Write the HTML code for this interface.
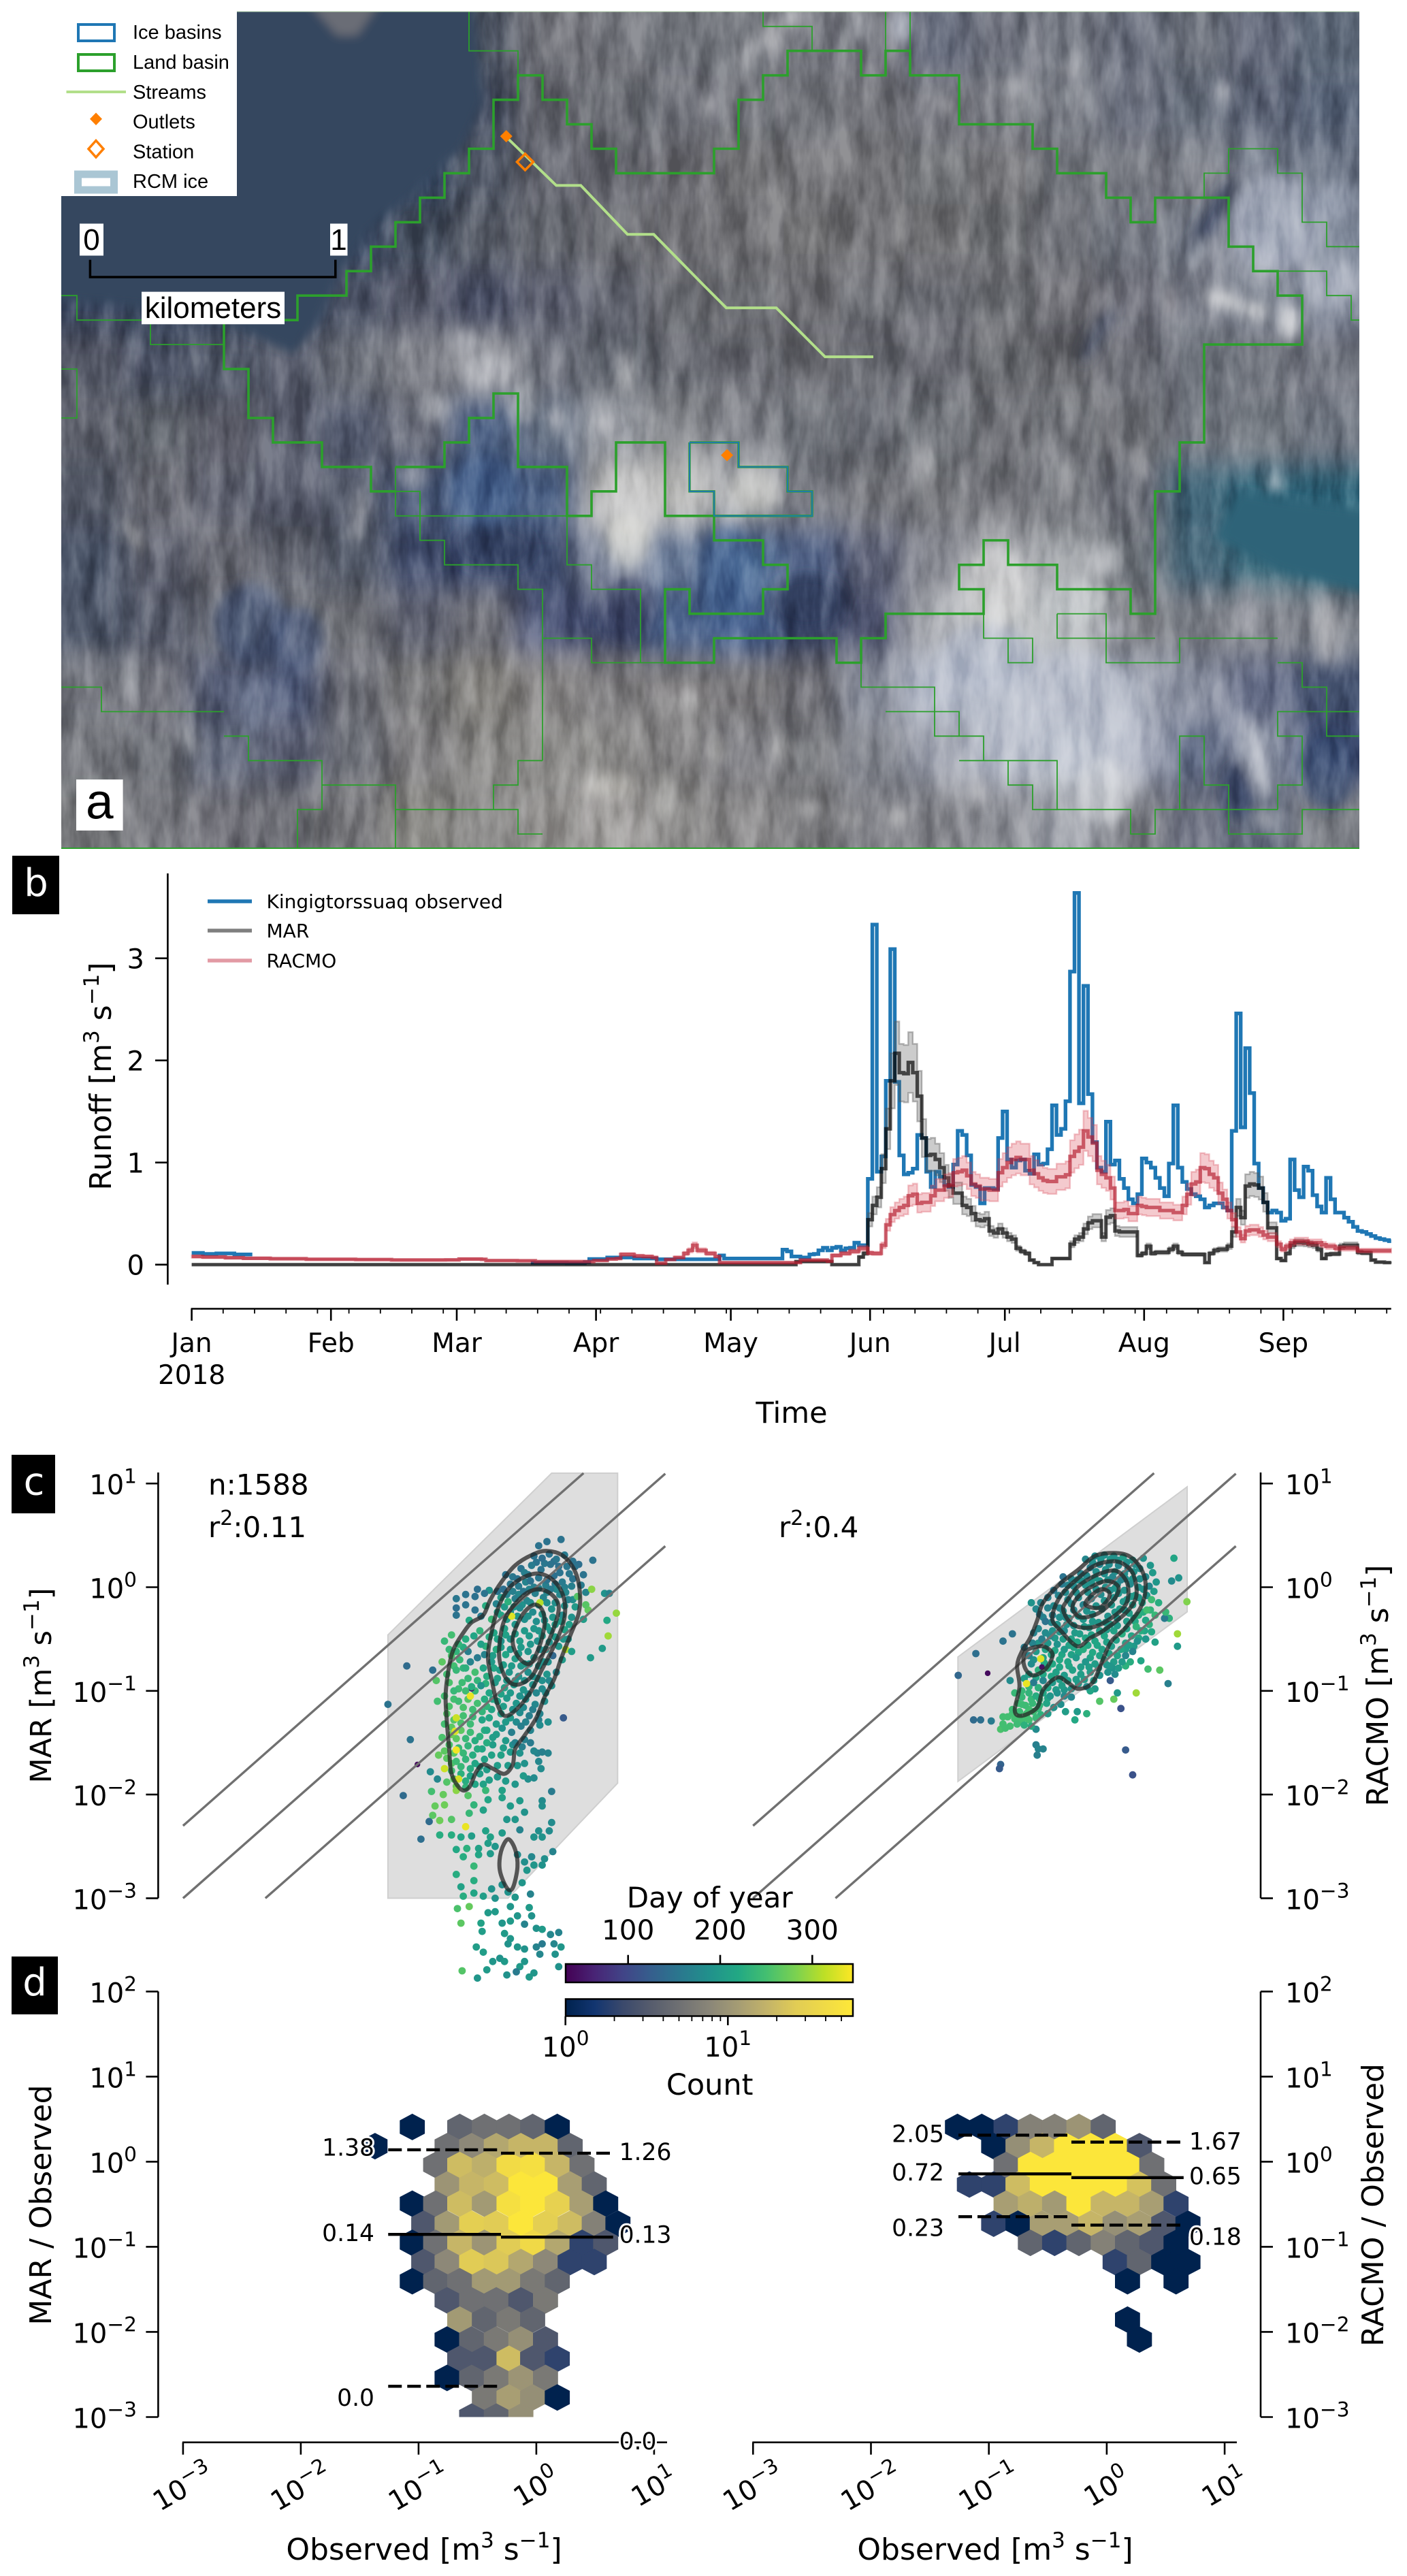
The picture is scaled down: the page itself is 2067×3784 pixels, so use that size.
<!DOCTYPE html>
<html lang="en">
<head>
<meta charset="utf-8">
<title>Runoff comparison figure</title>
<style>
html,body{margin:0;padding:0;background:#fff;}
svg{display:block;}
text{font-family:"DejaVu Sans","Liberation Sans",sans-serif;fill:#000;}
.lib{font-family:"Liberation Sans",sans-serif;}
.halo{paint-order:stroke;stroke:#fff;stroke-width:6px;stroke-linejoin:round;}
</style>
</head>
<body>
<svg id="fig" xmlns="http://www.w3.org/2000/svg" width="2067" height="3784" viewBox="0 0 2067 3784">
<defs>
<filter id="blurBig" x="-10%" y="-10%" width="120%" height="120%"><feGaussianBlur stdDeviation="20"/></filter>
<filter id="blurSmall" x="-10%" y="-10%" width="120%" height="120%"><feGaussianBlur stdDeviation="9"/></filter>
<filter id="blurTiny" x="-10%" y="-10%" width="120%" height="120%"><feGaussianBlur stdDeviation="7"/></filter>
<filter id="streakNoise" x="0" y="0" width="100%" height="100%" color-interpolation-filters="sRGB"><feTurbulence type="fractalNoise" baseFrequency="0.04 0.011" numOctaves="4" seed="11"/><feColorMatrix type="matrix" values="1.7 0 0 0 -0.35  1.7 0 0 0 -0.35  1.7 0 0 0 -0.35  0 0 0 0 1"/></filter>
<clipPath id="mapClip"><rect x="90" y="16.5" width="1907" height="1230.5"/></clipPath>
<clipPath id="hexClipL"><rect x="230" y="2900" width="800" height="650.5"/></clipPath>
<clipPath id="hexClipR"><rect x="1060" y="2900" width="790" height="650.5"/></clipPath>
<linearGradient id="viridisGrad" x1="0" x2="1" y1="0" y2="0">
<stop offset="0" stop-color="#440154"/><stop offset=".1" stop-color="#482475"/><stop offset=".2" stop-color="#414487"/><stop offset=".3" stop-color="#355f8d"/><stop offset=".4" stop-color="#2a788e"/><stop offset=".5" stop-color="#21918c"/><stop offset=".6" stop-color="#22a884"/><stop offset=".7" stop-color="#44bf70"/><stop offset=".8" stop-color="#7ad151"/><stop offset=".9" stop-color="#bddf26"/><stop offset="1" stop-color="#fde725"/>
</linearGradient>
<linearGradient id="cividisGrad" x1="0" x2="1" y1="0" y2="0">
<stop offset="0" stop-color="#00224e"/><stop offset=".1" stop-color="#123570"/><stop offset=".2" stop-color="#3b496c"/><stop offset=".3" stop-color="#575d6d"/><stop offset=".4" stop-color="#707173"/><stop offset=".5" stop-color="#8a8678"/><stop offset=".6" stop-color="#a59c74"/><stop offset=".7" stop-color="#c3b369"/><stop offset=".8" stop-color="#e1cc55"/><stop offset="1" stop-color="#fee838"/>
</linearGradient>
</defs>

<g id="mapPanel" clip-path="url(#mapClip)">
  <g id="mapBase" filter="url(#blurBig)"></g>
  <g id="mapStreaks" filter="url(#blurSmall)"></g>
  <rect x="90" y="16.5" width="1907" height="1230.5" filter="url(#streakNoise)" style="mix-blend-mode:soft-light" opacity="0.5"/>
  <g filter="url(#blurTiny)">
    <polygon points="70,0 695,0 710,150 680,215 600,290 540,340 500,400 470,470 430,520 330,470 200,450 70,440" fill="#34465f"/>
    <polygon points="450,0 560,0 525,52 495,52" fill="#6b6d76"/>
    <polygon points="1819,722 1900,735 2020,750 2020,873 1880,840 1785,790" fill="#2f6478"/>
  </g>
  <g id="mapBasins"></g>
</g>

<g>
  <rect x="90" y="16" width="258" height="272" fill="#fff"/>
  <rect x="115" y="36" width="53" height="24" fill="#fff" stroke="#1f77b4" stroke-width="4"/>
  <text class="lib" x="195" y="57" font-size="29">Ice basins</text>
  <rect x="115" y="80" width="53" height="24" fill="#fff" stroke="#2ca02c" stroke-width="4"/>
  <text class="lib" x="195" y="101" font-size="29">Land basin</text>
  <line x1="97.5" y1="135" x2="185" y2="135" stroke="#b2df8a" stroke-width="4"/>
  <text class="lib" x="195" y="145" font-size="29">Streams</text>
  <polygon points="141,165.5 150,174.7 141,184 132,174.7" fill="#ff7f00"/>
  <text class="lib" x="195" y="188.6" font-size="29">Outlets</text>
  <polygon points="141,206.5 152,218.7 141,231 130,218.7" fill="none" stroke="#ff7f00" stroke-width="3.5"/>
  <text class="lib" x="195" y="232.6" font-size="29">Station</text>
  <rect x="114.5" y="256" width="53" height="23" fill="#fff" stroke="#aac6d4" stroke-width="11"/>
  <text class="lib" x="195" y="276" font-size="29">RCM ice</text>
</g>

<g>
  <rect x="117" y="328.5" width="35" height="47" fill="#fff"/>
  <text class="lib" x="134.5" y="367" font-size="44" text-anchor="middle">0</text>
  <rect x="485" y="328.5" width="25.5" height="47" fill="#fff"/>
  <text class="lib" x="497.5" y="367" font-size="44" text-anchor="middle">1</text>
  <polyline points="132.4,381.6 132.4,407 492.8,407 492.8,381.6" fill="none" stroke="#000" stroke-width="3.5"/>
  <rect x="208" y="428.6" width="210" height="47.7" fill="#fff"/>
  <text class="lib" x="313" y="467" font-size="44" text-anchor="middle">kilometers</text>
</g>

<rect x="112" y="1145" width="68.6" height="75" fill="#fff"/>
<text class="lib" x="146.3" y="1202.4" font-size="73" text-anchor="middle">a</text>

<rect x="18" y="1257" width="69" height="86" fill="#000"/>
<text x="53" y="1316" font-size="56" text-anchor="middle" style="fill:#fff">b</text>
<rect x="17" y="2137" width="64" height="86" fill="#000"/>
<text x="50" y="2195.5" font-size="56" text-anchor="middle" style="fill:#fff">c</text>
<rect x="17" y="2874" width="68" height="85" fill="#000"/>
<text x="51" y="2931" font-size="56" text-anchor="middle" style="fill:#fff">d</text>

<g id="runoffPanel"></g>
<g>
  <line x1="305" y1="1324" x2="370" y2="1324" stroke="#1f77b4" stroke-width="5.5"/>
  <text x="391.5" y="1334" font-size="28">Kingigtorssuaq observed</text>
  <line x1="305" y1="1367" x2="370" y2="1367" stroke="#7f7f7f" stroke-width="5.5"/>
  <text x="391.5" y="1377" font-size="28">MAR</text>
  <line x1="305" y1="1411" x2="370" y2="1411" stroke="#e29aa4" stroke-width="5.5"/>
  <text x="391.5" y="1421" font-size="28">RACMO</text>
</g>
<text transform="translate(163 1581) rotate(-90)" font-size="44" text-anchor="middle">Runoff [m<tspan dy="-18" font-size="31">3</tspan><tspan dy="18"> s</tspan><tspan dy="-18" font-size="31">−1</tspan><tspan dy="18">]</tspan></text>
<text x="1163" y="2090" font-size="43" text-anchor="middle">Time</text>
<text x="281.6" y="2033" font-size="39" text-anchor="middle">2018</text>

<g id="scatterLeft"></g>
<g id="scatterRight"></g>
<g id="hexLeft"></g>
<g id="hexRight"></g>

<text x="306" y="2195.5" font-size="42">n:1588</text>
<text x="306" y="2258" font-size="42">r<tspan dy="-18" font-size="30">2</tspan><tspan dy="18">:0.11</tspan></text>
<text x="1144" y="2258" font-size="42">r<tspan dy="-18" font-size="30">2</tspan><tspan dy="18">:0.4</tspan></text>

<text transform="translate(75 2476) rotate(-90)" font-size="43" text-anchor="middle">MAR [m<tspan dy="-18" font-size="31">3</tspan><tspan dy="18"> s</tspan><tspan dy="-18" font-size="31">−1</tspan><tspan dy="18">]</tspan></text>
<text transform="translate(2039 2476) rotate(-90)" font-size="44" text-anchor="middle">RACMO [m<tspan dy="-18" font-size="31">3</tspan><tspan dy="18"> s</tspan><tspan dy="-18" font-size="31">−1</tspan><tspan dy="18">]</tspan></text>
<text transform="translate(75 3239) rotate(-90)" font-size="44" text-anchor="middle">MAR / Observed</text>
<text transform="translate(2032 3239) rotate(-90)" font-size="44" text-anchor="middle">RACMO / Observed</text>
<text x="623" y="3760" font-size="44" text-anchor="middle">Observed [m<tspan dy="-18" font-size="31">3</tspan><tspan dy="18"> s</tspan><tspan dy="-18" font-size="31">−1</tspan><tspan dy="18">]</tspan></text>
<text x="1462" y="3760" font-size="44" text-anchor="middle">Observed [m<tspan dy="-18" font-size="31">3</tspan><tspan dy="18"> s</tspan><tspan dy="-18" font-size="31">−1</tspan><tspan dy="18">]</tspan></text>

<g id="colorbars">
  <text x="1042.7" y="2802" font-size="42" text-anchor="middle">Day of year</text>
  <rect x="831" y="2885" width="422" height="27" fill="url(#viridisGrad)" stroke="#000" stroke-width="2.5"/>
  <rect x="831" y="2936.5" width="422" height="25" fill="url(#cividisGrad)" stroke="#000" stroke-width="2.5"/>
  <text x="1042.7" y="3077" font-size="43" text-anchor="middle">Count</text>
</g>

<g>
  <text class="halo" x="550" y="3166.6" font-size="34.5" text-anchor="end">1.38</text>
  <text class="halo" x="909.6" y="3172.8" font-size="34.5">1.26</text>
  <text class="halo" x="550" y="3291.8" font-size="34.5" text-anchor="end">0.14</text>
  <text class="halo" x="909.6" y="3294.6" font-size="34.5">0.13</text>
  <text class="halo" x="550" y="3534" font-size="34.5" text-anchor="end">0.0</text>
  <text class="halo" x="909.6" y="3598" font-size="34.5">0.0</text>
  <text class="halo" x="1387" y="3146.3" font-size="34.5" text-anchor="end">2.05</text>
  <text class="halo" x="1747" y="3157.6" font-size="34.5">1.67</text>
  <text class="halo" x="1387" y="3203" font-size="34.5" text-anchor="end">0.72</text>
  <text class="halo" x="1747" y="3208.3" font-size="34.5">0.65</text>
  <text class="halo" x="1387" y="3284.4" font-size="34.5" text-anchor="end">0.23</text>
  <text class="halo" x="1747" y="3297.4" font-size="34.5">0.18</text>
</g>
</svg>

<script>
/* ---------- panel a: image + basin data ---------- */
const mapColorRows = [
['#33455f','#33455f','#33455f','#3f4c63','#3a4a62','#33455f','#4d5464','#6f7178','#73757c','#72747b','#72747b','#787a82','#7a7c84','#6a7080','#6f737f','#7a7e88','#6d7280','#686d78','#64697a','#5f6a7a'],
['#33455f','#33455f','#33455f','#33455f','#33455f','#33455f','#475062','#66686f','#6c6e74','#70727a','#73757c','#75777d','#75767c','#74767e','#787a82','#7d8089','#6d7280','#6d7482','#5e6678','#566276'],
['#33455f','#33455f','#33455f','#33455f','#33455f','#354660','#505665','#666871','#696b72','#6f7076','#747578','#76767a','#747579','#737479','#747579','#72747b','#72747d','#7c7f88','#7c8392','#6a7384'],
['#354660','#354660','#354660','#354660','#3a4962','#4a5264','#5a5e6b','#65676f','#6b6c72','#6f6f74','#727276','#747477','#76767a','#747478','#737479','#707279','#757983','#7a7f8b','#a0a6b4','#8a93a3'],
['#3c4a62','#3a4860','#37465f','#3e4b64','#4f5669','#565a6a','#4e5369','#5d6070','#62656f','#6b6c72','#6e6f74','#6f7075','#6e7076','#6e7077','#6e6f75','#6f7076','#747680','#80848f','#8a909c','#8c93a3'],
['#565a68','#505669','#555b6c','#5c606f','#6b6e78','#82848c','#8c8e94','#777a85','#62666f','#686a72','#696b72','#6c6d73','#6a6c73','#696b72','#6a6c71','#6c6d72','#6e7078','#70747e','#72767f','#787c86'],
['#5c5f6a','#646770','#5e616c','#5c606f','#555c70','#6f7380','#4f6486','#6a7688','#9ea1a8','#8b8d92','#85878e','#70737a','#6b6d74','#777a80','#6f7177','#76787e','#6e7076','#70757e','#7a8088','#6e7480'],
['#555a68','#6a6c74','#5f626f','#5c6070','#5b6272','#4b5a78','#4a6288','#4b6084','#b0b0b0','#bdbdbc','#a9abb0','#7e8088','#74767c','#7b7d82','#74767c','#7c7e84','#6d7079','#3f6578','#2f6478','#2f6478'],
['#4c5568','#5f6270','#6a6c74','#60636e','#575d6c','#404c6a','#3a4a6c','#3d4b6c','#8a93a6','#6a7b98','#4a6890','#4f6184','#5f6378','#8c8e96','#a4a6ab','#a9acb0','#70747c','#47687a','#3a6a7c','#356a7c'],
['#50586a','#5a5f6e','#63666f','#6b6d74','#6a6c72','#5f6271','#71727a','#50597a','#3a4566','#4a6088','#4a6490','#3a4768','#4f5570','#b0b2b8','#c0c2c4','#b6b9bd','#7b7e84','#7a7e86','#878a92','#7c8089'],
['#70727a','#6f717a','#596079','#505a78','#6e7078','#7a7a7c','#85837f','#8a8888','#7d7c7e','#7b7a7c','#7a797b','#6e6e74','#8a8f9c','#b6bcca','#b8becb','#b3b8c6','#a0a6b4','#8a90a0','#67708a','#465472'],
['#787a80','#72747b','#646a7d','#5e6477','#6d6f78','#7f7e80','#8a8987','#8d8c8a','#8e8d8c','#888788','#85858a','#7a7b80','#8b8e96','#a0a4b0','#b8bdca','#c8cdd6','#b5bac8','#646e88','#8f96a8','#46547a'],
['#7c7d80','#77787e','#6f7078','#72737a','#78787c','#84837f','#8c8b8a','#9a9896','#a09e9c','#8e8d8c','#8a898a','#7d7d80','#83848a','#87888e','#8f9198','#a3a6ae','#7f8188','#6c7080','#687082','#7a7d84']
];
/* texture patches: cx, cy, rx, ry, rotation, colour */
const mapPatches = [
[369,917,55,60,0,'#4a5a7c'],[435,942,40,50,10,'#4e5e80'],[923,893,40,45,0,'#3a4564'],[1186,885,60,40,0,'#2f3c5c'],[725,803,60,35,0,'#2f3c5c'],
[1068,844,40,70,0,'#4a6a96'],[712,722,50,50,0,'#4a6590'],[1951,1130,40,60,0,'#2f4468'],[1819,1162,25,40,0,'#33456a'],[1778,326,14,70,30,'#2e3c58'],[1613,490,10,50,30,'#3a4660'],
[1877,326,70,70,0,'#aab0c0'],[1963,294,30,30,0,'#a0a8b8'],[1956,416,36,34,0,'#b0b6c4'],[1798,441,30,12,15,'#e4e4e4'],[1844,457,22,12,15,'#dcdcdc'],[1897,473,16,25,0,'#ececec'],[1759,375,10,25,30,'#b8bcc4'],[1626,433,7,20,10,'#c0c0c4'],[1719,445,7,25,-5,'#b8b4b8'],
[1096,82,14,30,20,'#c0c2c6'],[1132,53,12,22,0,'#c4c4c8'],[1165,25,14,16,0,'#cfcfd2'],[1264,37,10,22,0,'#b8bbc2'],[1323,37,18,26,0,'#b4b9c6'],[1521,69,8,34,-8,'#bcbec4'],[1574,98,10,24,5,'#c4c6ca'],[1488,126,14,10,-20,'#c2c4c8'],[1567,139,10,16,20,'#bcc0c6'],[1676,127,8,20,0,'#c2c4cc'],[1798,135,10,14,0,'#c0c2c8'],[1392,159,5,14,0,'#d0d0d0'],[1043,155,6,12,0,'#c8c8cc'],
[919,547,9,32,4,'#e6e6e6'],[718,543,40,25,0,'#bcbec4'],[685,502,25,14,0,'#aeb0b8'],[639,600,16,22,10,'#c6c8cc'],[817,616,12,18,0,'#c8c8cc'],[889,624,14,12,0,'#bcbcc0'],[770,590,22,34,0,'#b4b6ba'],
[923,746,45,60,0,'#d0d0d0'],[923,795,35,40,0,'#dcdcd6'],[527,758,12,40,8,'#a8aab0'],[198,787,10,30,-30,'#b4b4b4'],[606,701,20,20,0,'#aeb2bc'],[1107,722,40,35,0,'#cfcfca'],[1463,860,45,60,0,'#dcdcdc'],[1582,885,45,28,0,'#cfd2d4'],[1621,820,25,25,0,'#c4c6ca'],[1635,926,25,20,0,'#bcbec6'],[1872,709,14,16,0,'#a6b2bc'],[1358,681,8,30,0,'#b8b8bc'],[1569,701,8,30,0,'#b8b8bc'],[1674,681,8,30,-10,'#b8b8bc'],[1951,926,18,50,0,'#c0c0c4'],[1832,893,10,40,0,'#bcbcc4'],
[1582,1048,100,90,0,'#bcc2ce'],[1621,1162,40,50,0,'#d8dbe0'],[1450,966,70,50,0,'#b8bfce'],[1845,1109,18,60,-15,'#c4c8d0'],[1015,1024,8,18,0,'#ececec'],[132,979,12,30,0,'#a8aab2'],[198,995,10,40,0,'#aeb2b8'],[369,1036,12,50,0,'#8a96ac'],[277,1085,10,30,-30,'#a4a6ac'],
[896,1154,40,20,0,'#c8c6c2'],[975,1166,10,40,0,'#c8c8c4'],[1186,1187,12,12,0,'#c0c0c0'],[1252,1203,12,10,0,'#bcbcbc'],[1318,1199,14,10,0,'#c0c0c0'],[870,1097,6,40,-20,'#bcbcb8'],[1055,1101,10,20,0,'#bcbcb8'],[1147,1101,10,18,0,'#b4b4b4'],[1437,1162,12,20,0,'#c4c4c8'],[1859,1203,10,14,0,'#bcbcc0']
];
/* basin boundaries in RCM grid cells: [column, row] */
const basinThickMain = [[6,11],[9,11],[9,10],[11,10],[11,9],[12,9],[12,8],[13,8],[13,7],[14,7],[14,6],[15,6],[15,5],[16,5],[16,4],[17,4],[17,2],[18,2],[18,1],[19,1],[19,2],[20,2],[20,3],[21,3],[21,4],[22,4],[22,5],[26,5],[26,4],[27,4],[27,2],[28,2],[28,1],[29,1],[29,0],[32,0],[32,1],[33,1],[33,0],[34,0],[34,1],[36,1],[36,3],[39,3],[39,4],[40,4],[40,5],[42,5],[42,6],[43,6],[43,7],[44,7],[44,6],[47,6],[47,8],[48,8],[48,9],[49,9],[49,10],[50,10],[50,12],[46,12],[46,16],[45,16],[45,18],[44,18],[44,23],[43,23],[43,22],[40,22],[40,21],[38,21],[38,20],[37,20],[37,21],[36,21],[36,22],[37,22],[37,23],[33,23],[33,24],[32,24],[32,25],[31,25],[31,24],[26,24],[26,25],[24,25],[24,22],[25,22],[25,23],[28,23],[28,22],[29,22],[29,21],[28,21],[28,20],[26,20],[26,19]];
const basinThickWest = [[6,11],[6,13],[7,13],[7,15],[8,15],[8,16],[10,16],[10,17],[12,17],[12,18],[13,18]];
const basinThickCentral = [[30,19],[24,19],[24,16],[22,16],[22,18],[21,18],[21,19],[20,19],[20,17],[18,17],[18,14],[17,14],[17,15],[16,15],[16,16],[15,16],[15,17],[13,17]];
const basinThin = [
[[16,-1.62],[16,0],[18,0],[18,1]],
[[28,-1.62],[28,-1],[30,-1],[30,0]],
[[33,-1.62],[33,1]],
[[34,-1.62],[34,0]],
[[46,6],[46,5],[47,5],[47,4],[49,4],[49,5],[50,5],[50,7],[51,7],[51,8],[52.33,8]],
[[49,9],[51,9],[51,10],[52,10],[52,11],[52.33,11]],
[[-0.64,10],[0,10],[0,11],[6,11]],
[[3,11],[3,12],[6,12]],
[[-0.64,13],[0,13],[0,15],[-0.64,15]],
[[13,17],[13,19],[21,19]],
[[13,18],[14,18],[14,20],[15,20],[15,21],[18,21],[18,22],[19,22],[19,29]],
[[20,19],[20,21],[21,21],[21,22],[23,22],[23,25]],
[[19,24],[21,24],[21,25],[24,25]],
[[-0.64,26],[1,26],[1,27],[6,27]],
[[6,28],[7,28],[7,29],[10,29],[10,30],[13,30],[13,31],[18,31],[18,32],[19,32]],
[[9,32.6],[9,31],[10,31],[10,30]],
[[13,31],[13,32.6]],
[[17,31],[17,30],[18,30],[18,29],[19,29]],
[[32,25],[32,26],[35,26],[35,28],[37,28],[37,29],[36,29],[40,29],[40,31],[43,31],[43,32],[44,32],[44,31],[49,31]],
[[33,27],[36,27],[36,28]],
[[38,29],[38,30],[39,30],[39,31],[40,31]],
[[37,23],[37,24],[39,24],[39,25],[38,25],[38,24]],
[[40,23],[42,23],[42,25],[45,25],[45,24],[49,24]],
[[40,23],[40,24],[44,24]],
[[49,25],[50,25],[50,26],[51,26],[51,28],[52.33,28]],
[[52.33,27],[49,27],[49,28],[50,28],[50,30],[49,30],[49,31]],
[[45,31],[45,28],[46,28],[46,30],[47,30],[47,32],[50,32],[50,31],[52.33,31]]
];
const iceBasin = [[25,16],[27,16],[27,17],[29,17],[29,18],[30,18],[30,19],[26,19],[26,18],[25,18],[25,16]];
const streamPath = [[17.5,3.5],[19.56,5.5],[20.56,5.5],[22.47,7.5],[23.54,7.5],[25.55,9.55],[26.5,10.5],[28.54,10.5],[30.53,12.5],[32.5,12.5]];
const outletCells = [[17.52,3.49],[26.53,16.52]];
const stationCells = [[18.29,4.54]];

/* ---------- panel b: runoff series (m3/s) ---------- */
const runoffBandFraction = 0.15;
const obsEarlyDays = [0,3,6,10,14,76,84,88,89,93,99,104,118,119,131,132,133,134,136,138,139,140,141,142,143,144,145,146,147,148,149];
const obsEarlyValues = [0.115,0.105,0.11,0.10,null,0.018,0.015,0.025,0.055,0.07,0.06,0.053,0.09,0.06,0.06,0.147,0.13,0.08,0.07,0.10,0.105,0.14,0.165,0.14,0.165,0.175,0.14,0.16,0.165,0.215,0.19];
const obsSummer = [0.84,3.33,0.91,1.06,1.80,3.09,1.79,1.07,0.885,0.90,0.94,1.27,1.24,0.91,0.76,0.91,0.86,0.78,0.76,0.98,1.31,1.27,1.07,0.78,0.76,0.60,0.75,0.75,0.74,1.24,1.50,1.03,0.95,1.02,1.03,0.92,0.89,1.08,0.98,0.99,1.13,1.56,1.27,1.33,1.60,2.87,3.64,1.58,2.73,1.67,1.20,0.95,0.91,1.40,0.98,1.02,0.84,0.75,0.64,0.60,0.69,1.04,1.00,0.95,0.85,0.75,0.67,0.99,1.56,0.95,0.81,0.74,0.69,0.67,0.64,0.56,0.58,0.60,0.60,0.56,0.53,1.31,2.46,1.345,2.12,1.68,0.99,0.75,0.61,0.51,0.53,0.51,0.43,0.45,1.03,0.73,0.66,0.96,0.92,0.68,0.57,0.51,0.85,0.64,0.51,0.51,0.46,0.42,0.37,0.33,0.32,0.30,0.28,0.26,0.25,0.24,0.23];
const marEarlyDays = [0,135,143,149,150];
const marEarlyValues = [0,0.03,0,0.075,0.11];
const marSummer = [0.44,0.58,0.66,0.94,1.33,1.80,2.07,1.88,1.87,1.98,1.88,1.65,1.24,1.07,1.08,1.03,0.95,0.85,0.77,0.70,0.70,0.58,0.56,0.50,0.44,0.43,0.45,0.33,0.31,0.35,0.31,0.27,0.25,0.16,0.13,0.11,0.045,0.02,0,0,0,0.06,0.06,0.06,0.06,0.20,0.25,0.27,0.35,0.41,0.43,0.43,0.27,0.465,0.48,0.33,0.32,0.32,0.32,0.32,0.09,0.11,0.18,0.11,0.12,0.12,0.12,0.15,0.18,0.12,0.10,0.10,0.10,0.10,0.10,0.02,0.11,0.14,0.15,0.15,0.18,0.32,0.56,0.46,0.77,0.79,0.78,0.75,0.61,0.36,0.36,0.06,0.04,0.11,0.19,0.215,0.215,0.21,0.20,0.19,0.15,0.06,0.10,0.105,0.105,0.18,0.19,0.19,0.19,0.12,0.115,0.115,0.045,0.025,0.025,0.02,0.02];
const racmoEarlyDays = [0,3,8,12,18,26,37,45,57,60,65,66,73,77,88,90,93,95,96,99,101,103,104,106,108,110,111,112,113,115,117,118,136,142,143,145,147,149,150];
const racmoEarlyValues = [0.08,0.075,0.068,0.062,0.058,0.053,0.05,0.046,0.047,0.055,0.052,0.04,0.038,0.03,0.03,0.04,0.055,0.06,0.10,0.085,0.08,0.07,0.015,0.05,0.07,0.11,0.14,0.19,0.14,0.11,0.08,0.02,0.045,0.035,0.09,0.11,0.13,0.16,0.16];
const racmoSummer = [0.115,0.11,0.11,0.19,0.39,0.49,0.53,0.56,0.58,0.675,0.69,0.60,0.61,0.61,0.675,0.73,0.73,0.77,0.78,0.90,0.91,0.925,0.87,0.79,0.77,0.74,0.74,0.73,0.73,0.90,0.95,1.00,1.03,1.05,1.03,1.03,0.925,0.89,0.85,0.825,0.815,0.815,0.86,0.86,0.88,1.06,1.11,1.15,1.31,1.25,1.19,0.925,0.885,0.85,0.75,0.53,0.53,0.54,0.50,0.50,0.58,0.57,0.56,0.56,0.56,0.53,0.53,0.53,0.51,0.51,0.58,0.69,0.79,0.81,0.95,0.94,0.885,0.85,0.70,0.64,0.53,0.44,0.32,0.255,0.33,0.34,0.34,0.32,0.29,0.27,0.27,0.20,0.15,0.18,0.215,0.23,0.23,0.23,0.215,0.215,0.215,0.195,0.18,0.18,0.16,0.16,0.16,0.16,0.16,0.137,0.137,0.137,0.137,0.137,0.137,0.137,0.137];
const runoffYTicks = [0,1,2,3];
const monthNames = ['Jan','Feb','Mar','Apr','May','Jun','Jul','Aug','Sep'];
const monthStartDays = [0,31,59,90,120,151,181,212,243];
const lastDay = 267;

/* ---------- panel c: scatter, [log10 observed, log10 model, day of year] ---------- */
const marOutliers = [[-1.26,-1.13,150],[-1.10,-.76,140],[-.88,-.80,145],[-1.07,-1.47,150],[-1.01,-1.71,40],[-1.13,-2.01,140],[-.91,-2.26,140],[-.98,-2.43,145],[-.55,-.98,50],[.68,-.25,295],[.61,-.47,300],[.56,-.59,200],[.46,-.68,200],[.60,-.32,220],[.58,-.06,190],[.62,-.06,170],[.48,.26,150],[.21,.46,150],[.09,.44,150],[.02,.40,150],[.23,-1.26,120]];
const marUpperDense = [[-.26,.12,150],[-.20,.10,155],[-.13,.18,150],[-.07,.12,160],[.00,.24,150],[.07,.23,155],[.15,.25,145],[.20,.14,150],[.26,.20,155],[.31,.08,150],[.24,.00,165],[.16,.03,160],[.08,.02,165],[-.02,.00,165],[-.09,.05,170],[-.15,.01,160],[-.20,-.04,165],[-.25,-.07,170],[-.15,-.07,175],[-.06,-.02,170],[.02,-.01,170],[.09,-.05,175],[.17,-.02,180],[.25,-.05,175],[.31,-.12,185],[.24,-.18,190],[.16,-.15,185],[.09,-.15,185],[.02,-.17,180],[-.05,-.15,185],[-.12,-.17,190],[-.19,-.19,195],[-.27,-.19,200],[-.33,-.24,210],[-.25,-.31,205],[-.16,-.28,195],[-.07,-.28,190],[.00,-.33,185],[.07,-.32,190],[.14,-.29,195],[.21,-.33,200],[.28,-.36,205],[.12,-.42,195],[.05,-.47,200],[-.02,-.40,195],[-.10,-.42,200],[-.18,-.45,205],[-.26,-.46,210],[-.33,-.50,215],[-.40,-.48,225],[-.43,-.57,230],[-.37,-.66,205],[-.30,-.58,205],[-.22,-.60,195],[-.15,-.64,200],[-.07,-.62,195],[.01,-.52,190],[.08,-.60,195],[.16,-.48,200],[.23,-.50,195]];
const marMidDense = [[.10,-.72,185],[.02,-.76,190],[-.06,-.74,190],[-.13,-.76,195],[-.21,-.76,200],[-.28,-.75,205],[-.36,-.78,215],[-.42,-.86,225],[-.33,-.88,210],[-.25,-.90,200],[-.18,-.90,195],[-.10,-.90,190],[-.03,-.86,185],[.05,-.90,185],[.11,-.90,175],[.08,-1.02,180],[.00,-1.02,175],[-.07,-1.03,185],[-.14,-1.05,190],[-.22,-1.02,200],[-.30,-1.03,210],[-.37,-1.08,215],[-.44,-1.08,225],[-.28,-1.15,205],[-.20,-1.18,190],[-.11,-1.16,180],[-.03,-1.18,165],[.02,-1.28,165],[-.09,-1.30,170],[-.17,-1.30,180],[-.26,-1.30,200],[-.34,-1.32,205],[-.40,-1.26,215],[-.44,-1.38,225],[-.37,-1.45,205],[-.28,-1.55,205],[-.20,-1.52,185],[-.12,-1.54,165],[-.05,-1.50,160],[-.38,-1.62,210],[-.33,-1.72,205],[-.24,-1.72,200],[-.16,-1.72,195],[-.10,-1.70,190]];
const marLeftDense = [[-.74,-.60,240],[-.68,-.62,235],[-.62,-.58,225],[-.56,-.72,170],[-.62,-.78,235],[-.70,-.76,250],[-.74,-.92,255],[-.66,-.98,245],[-.58,-.88,240],[-.50,-.90,235],[-.43,-.93,230],[-.52,-1.00,240],[-.60,-1.00,245],[-.70,-1.08,250],[-.62,-1.16,255],[-.54,-1.18,245],[-.46,-1.20,235],[-.56,-1.32,245],[-.64,-1.31,255],[-.72,-1.35,265],[-.76,-1.22,260],[-.68,-1.46,265],[-.60,-1.46,240],[-.52,-1.48,225],[-.46,-1.56,215],[-.54,-1.62,225],[-.62,-1.60,240],[-.70,-1.60,265],[-.78,-1.58,265],[-.72,-1.70,260],[-.64,-1.73,240],[-.56,-1.75,225],[-.48,-1.73,210],[-.42,-1.76,205],[-.60,-1.93,235],[-.52,-1.90,215],[-.45,-1.90,210],[-.70,-1.85,265]];
const marUpperLobe = [[-.02,.30,150],[.05,.28,145],[.11,.32,150],[.17,.27,155],[.24,.31,160],[.31,.25,150],[.36,.22,145],[.40,.12,150],[.38,.02,160],[.42,-.05,170],[.33,.20,150],[.28,.13,155],[.19,.20,148],[.12,.22,150],[.04,.17,152],[-.04,.21,160],[-.10,.14,165],[-.16,.08,150],[-.22,.03,155],[-.28,-.02,145],[-.33,-.04,150],[-.40,-.03,190],[-.44,-.06,150],[-.50,-.02,145],[-.52,-.09,148],[-.60,-.07,150],[-.68,-.11,155],[-.68,-.20,145],[-.60,-.17,150],[-.52,-.22,150],[-.47,-.28,160],[-.57,-.32,220],[-.68,-.27,150],[-.30,-.10,200],[-.24,-.14,230],[-.18,-.11,165],[-.11,-.04,155],[-.05,.06,150],[.02,.09,155],[.09,.07,150],[.15,.11,148],[.22,.05,160],[.30,.01,165],[.35,-.09,260],[.27,-.12,170],[.20,-.07,175],[.12,-.02,160],[.06,-.10,170],[-.01,-.06,165],[-.08,-.13,175],[-.14,-.20,180],[-.22,-.24,185],[-.30,-.27,215],[-.38,-.31,240],[-.43,-.18,225],[-.34,-.16,170],[.33,-.19,200],[.44,-.22,270],[.40,-.31,205],[.30,-.29,190],[.22,-.27,180],[.13,-.21,190],[.05,-.26,195],[-.03,-.24,180],[-.10,-.31,185],[-.18,-.36,195],[-.27,-.40,210],[-.36,-.44,215],[-.48,-.42,235],[.16,-.36,200],[.24,-.41,210],[.09,-.38,200],[.02,-.42,195],[-.06,-.47,200],[-.14,-.52,205],[-.21,-.28,330],[.03,-.15,310],[.47,-.02,290],[.42,-.17,262],[.25,-.60,310]];
const marCore = [[-.30,-.52,190],[-.22,-.50,195],[-.13,-.58,200],[-.05,-.55,195],[.03,-.60,185],[.11,-.53,190],[.19,-.57,195],[.27,-.50,190],[.30,-.62,205],[.22,-.70,200],[.14,-.66,135],[.06,-.72,190],[-.02,-.68,195],[-.10,-.74,200],[-.18,-.69,205],[-.26,-.65,215],[-.34,-.60,225],[-.38,-.72,200],[-.31,-.80,205],[-.23,-.82,195],[-.15,-.86,190],[-.07,-.82,185],[.01,-.88,190],[.09,-.84,195],[.17,-.82,175],[.13,-.95,185],[.05,-.98,180],[-.03,-.94,190],[-.11,-.99,195],[-.19,-.94,200],[-.27,-.97,210],[-.35,-.92,200],[-.40,-1.02,215],[-.33,-1.10,210],[-.25,-1.07,200],[-.17,-1.12,195],[-.09,-1.08,185],[-.01,-1.13,175],[.07,-1.10,185],[.03,-1.22,170],[-.06,-1.24,165],[-.14,-1.21,180],[-.22,-1.26,200],[-.30,-1.22,205],[-.38,-1.18,215],[-.29,-1.36,190],[-.21,-1.40,165],[-.13,-1.34,165],[-.05,-1.38,170],[.03,-1.33,180],[.10,-1.30,185],[-.18,-1.50,170],[-.10,-1.47,165],[-.26,-1.48,200],[-.34,-1.42,205],[-.42,-1.38,220],[-.37,-1.52,205],[-.30,-1.62,210],[-.22,-1.59,200],[-.14,-1.60,190],[.10,-1.60,170],[.01,-1.60,170],[-.02,-1.58,175],[.05,-1.59,165],[.02,-1.68,175],[.04,-1.75,180],[-.07,-1.85,185],[-.02,-1.84,180],[-.11,-1.82,200]];
const marLeftLobe = [[-.78,-.52,240],[-.72,-.46,250],[-.66,-.55,235],[-.60,-.50,225],[-.53,-.47,215],[-.47,-.55,210],[-.44,-.65,170],[-.50,-.68,160],[-.58,-.62,165],[-.65,-.70,240],[-.72,-.66,255],[-.80,-.72,265],[-.85,-.90,260],[-.76,-.84,250],[-.68,-.80,240],[-.60,-.78,230],[-.52,-.82,250],[-.45,-.78,215],[-.47,-.95,190],[-.55,-.96,225],[-.63,-.92,245],[-.70,-1.00,240],[-.78,-1.05,250],[-.84,-1.10,250],[-.74,-1.15,255],[-.66,-1.10,245],[-.58,-1.08,260],[-.50,-1.12,250],[-.42,-1.15,235],[-.46,-1.28,215],[-.54,-1.25,240],[-.62,-1.24,250],[-.70,-1.28,260],[-.78,-1.32,250],[-.80,-1.45,255],[-.72,-1.42,275],[-.64,-1.38,265],[-.56,-1.40,245],[-.48,-1.44,230],[-.42,-1.50,225],[-.50,-1.56,225],[-.58,-1.53,235],[-.66,-1.55,240],[-.74,-1.52,255],[-.83,-1.62,270],[-.76,-1.65,265],[-.68,-1.68,245],[-.60,-1.66,235],[-.52,-1.70,215],[-.44,-1.66,210],[-.48,-1.80,205],[-.56,-1.82,210],[-.64,-1.80,230],[-.72,-1.77,250],[-.90,-1.78,180],[-.84,-1.85,175],[-.76,-1.88,260],[-.68,-1.92,275],[-.60,-1.87,225],[-.40,-1.86,205],[-.33,-1.83,195],[-.26,-1.87,200],[-.18,-1.90,195],[-.56,-1.05,335],[-.68,-1.26,320],[-.69,-1.39,330],[-.68,-1.57,340],[-.78,-1.75,320],[-.66,-1.85,325]];
const marLowerSpread = [[-.89,-1.97,250],[-.79,-2.0,270],[-.68,-1.96,290],[-.58,-2.01,260],[-.43,-1.96,240],[-.29,-1.96,210],[-.29,-2.03,210],[-.22,-2.11,200],[.13,-1.97,160],[.05,-2.06,180],[.05,-2.11,185],[-.14,-2.06,200],[-.41,-2.05,215],[-.53,-2.10,235],[-.78,-2.10,275],[-.86,-2.11,270],[-.88,-2.20,265],[-.82,-2.25,275],[-.72,-2.24,260],[-.57,-2.18,240],[-.45,-2.15,210],[-.25,-2.24,195],[-.18,-2.24,195],[-.10,-2.17,190],[-.14,-2.34,170],[.13,-2.27,180],[.11,-2.35,180],[.02,-2.35,185],[.05,-2.41,190],[-.02,-2.41,190],[-.60,-2.31,335],[-.82,-2.39,225],[-.72,-2.39,225],[-.64,-2.41,215],[-.55,-2.40,205],[-.43,-2.35,210],[-.39,-2.41,210],[-.29,-2.37,200],[-.68,-2.53,220],[-.59,-2.52,230],[-.49,-2.52,210],[-.41,-2.47,205],[-.35,-2.50,195],[-.62,-2.60,225],[-.49,-2.58,215],[-.39,-2.57,200],[-.16,-2.58,180],[-.10,-2.65,185],[-.04,-2.60,175],[.07,-2.62,185],[.14,-2.55,170],[.05,-2.68,190],[-.02,-2.68,195],[-.08,-2.73,195],[-.53,-2.69,240],[-.68,-2.77,225],[-.53,-2.83,225],[-.64,-2.89,210],[-.38,-2.91,190],[-.29,-2.87,185],[-.12,-2.85,195],[-.53,-2.95,215],[-.62,-2.98,225],[-.45,-2.98,205],[-.24,-2.94,190],[-.35,-3.0,190],[-.18,-2.99,195],[-.05,-2.96,170]];
const marTail = [[-.67,-3.10,255],[-.57,-3.08,270],[-.64,-3.24,265],[-.47,-3.24,210],[-.46,-3.32,205],[-.41,-3.14,200],[-.35,-3.13,200],[-.22,-3.08,195],[-.06,-3.09,200],[-.16,-3.17,195],[-.04,-3.17,190],[-.29,-3.24,195],[-.22,-3.22,200],[-.10,-3.25,170],[0,-3.29,190],[.05,-3.30,200],[.12,-3.35,175],[.19,-3.33,170],[-.27,-3.34,200],[-.24,-3.44,190],[-.22,-3.39,195],[-.51,-3.47,205],[-.45,-3.52,205],[-.16,-3.47,195],[-.10,-3.49,190],[.05,-3.44,160],[0,-3.47,170],[.15,-3.44,175],[.21,-3.47,195],[.03,-3.54,175],[.16,-3.54,190],[-.37,-3.61,195],[-.31,-3.58,190],[-.27,-3.61,200],[-.10,-3.61,195],[-.14,-3.66,200],[.19,-3.66,190],[-.63,-3.70,260],[-.42,-3.69,200],[-.50,-3.77,195],[-.25,-3.74,190],[-.17,-3.71,160],[-.06,-3.76,200],[-.02,-3.72,195]];
const racmoOutliers = [[-1.26,-.85,135],[-1.01,-.83,40],[-1.11,-.64,145],[-.88,-.52,150],[-.80,-.45,150],[-1.13,-1.28,140],[-1.07,-1.28,145],[-.98,-1.29,160],[-.90,-1.37,255],[-.60,-1.37,180],[-.60,-1.52,165],[-.54,-1.56,170],[-.58,-1.56,170],[-.59,-1.62,165],[-.90,-1.71,130],[-.91,-1.75,120],[.16,-1.57,120],[.22,-1.81,110],[.12,-1.17,110],[.52,-.93,165],[.25,-1.02,300],[.06,-1.08,270],[-.06,-1.10,260],[-.17,-1.22,230],[-.27,-1.28,220],[-.25,-1.20,200],[-.35,-1.20,205],[.45,-.80,265],[.35,-.79,250],[.29,-.71,215],[.20,-.72,225],[.16,-.76,230],[.60,-.45,300],[.60,-.57,200],[.68,-.14,285],[.57,.28,215],[.61,.09,190],[.55,.06,180],[.53,-.30,230],[.49,-.30,160],[.50,-.24,240],[.41,-.53,210],[.38,-.43,220],[.09,-1.02,200],[.03,-.90,120],[-.10,-.98,200],[-.14,-1.0,215]];
const racmoCoreDense = [[-.12,.24,185],[-.05,.27,190],[.03,.27,195],[.10,.26,190],[.17,.24,185],[.23,.15,190],[.28,.08,185],[.31,-.02,190],[.27,-.10,195],[.22,-.17,200],[.15,.13,185],[.07,.15,190],[-.01,.17,190],[-.09,.15,185],[-.17,.11,180],[-.25,.07,185],[-.33,.02,175],[-.41,-.08,170],[-.35,-.05,180],[-.28,.01,180],[-.21,.06,185],[-.13,.04,190],[-.06,.06,190],[.01,.07,190],[.09,.03,185],[.16,.08,185],[.22,.08,190],[.15,-.03,190],[.07,-.01,195],[-.01,.00,190],[-.09,-.02,185],[-.16,-.05,185],[-.24,-.10,180],[-.30,-.16,180],[-.37,-.23,185],[-.45,-.18,180],[-.50,-.20,170],[-.54,-.29,170],[-.47,-.34,175],[-.40,-.29,185],[-.32,-.30,190],[-.24,-.28,190],[-.17,-.23,190],[-.09,-.18,190],[-.02,-.13,190],[.06,-.10,190],[.14,-.14,195],[.21,-.09,195],[.23,-.30,205],[.15,-.22,195],[.07,-.24,195],[-.01,-.34,195],[.03,-.36,200],[-.12,-.33,195],[-.19,-.38,200],[-.27,-.44,200],[-.34,-.36,190],[-.40,-.43,195],[-.46,-.42,190],[-.52,-.44,180],[-.58,-.40,175],[-.50,-.54,195],[-.44,-.49,200],[-.37,-.50,205],[-.32,-.56,210],[-.25,-.53,215],[-.18,-.49,215],[-.13,-.46,210],[-.06,-.42,205],[.00,-.41,205],[.09,-.37,200],[.17,-.40,210],[.24,-.33,220],[.31,-.24,225],[.37,-.22,235],[.41,-.27,240],[.32,-.42,215],[.27,-.49,215]];
const racmoBandDense = [[-.16,-.56,220],[-.08,-.56,215],[.00,-.53,210],[.08,-.51,210],[.16,-.54,210],[.23,-.57,200],[-.24,-.63,215],[-.30,-.65,210],[-.38,-.65,215],[-.44,-.61,215],[-.52,-.60,210],[-.58,-.54,195],[-.63,-.54,170],[-.14,-.68,210],[-.06,-.66,210],[.02,-.64,210],[.09,-.66,210],[.16,-.60,205],[-.22,-.77,205],[-.15,-.77,205],[-.07,-.78,200],[.00,-.75,195],[.05,-.78,190],[-.32,-.76,215],[-.40,-.77,215],[-.46,-.74,220],[-.53,-.73,220],[-.62,-.70,190],[-.54,-.84,220],[-.47,-.86,215],[-.40,-.89,205],[-.33,-.90,205],[-.26,-.89,205],[-.19,-.89,205],[-.11,-.90,200],[-.66,-.84,210],[-.60,-.87,215],[-.58,-.97,230],[-.50,-.97,215],[-.43,-.99,205],[-.36,-.99,195],[-.66,-.96,235],[-.72,-1.00,240],[-.64,-1.08,240],[-.57,-1.08,235],[-.50,-1.07,215],[-.66,-1.18,250],[-.58,-1.17,240],[-.72,-1.13,245],[-.80,-1.22,250],[-.74,-1.26,250],[-.68,-1.25,250]];
const racmoCore = [[-.18,.27,175],[-.10,.30,180],[-.02,.31,185],[.06,.30,190],[.14,.29,205],[.22,.26,195],[.28,.18,185],[.33,.10,180],[.36,.01,175],[.34,-.08,190],[.30,-.15,210],[.24,.22,185],[.18,.18,170],[.10,.21,175],[.02,.22,180],[-.06,.22,170],[-.14,.19,165],[-.22,.13,170],[-.30,.08,175],[-.38,.03,160],[-.37,.10,150],[-.45,-.03,155],[-.50,-.10,165],[-.56,-.15,170],[-.60,-.21,175],[-.64,-.15,190],[-.57,-.26,160],[-.52,-.33,150],[-.46,-.27,165],[-.40,-.20,175],[-.33,-.12,180],[-.26,-.05,185],[-.18,.02,190],[-.10,.09,195],[-.02,.13,185],[.05,.10,175],[.12,.07,170],[.20,.03,180],[.27,.00,190],[.24,-.08,200],[.17,-.12,195],[.10,-.06,190],[.03,-.03,185],[-.05,-.07,180],[-.13,-.11,175],[-.20,-.17,170],[-.28,-.22,175],[-.35,-.29,185],[-.42,-.36,190],[-.36,-.42,180],[-.28,-.37,190],[-.20,-.31,195],[-.12,-.26,190],[-.04,-.21,185],[.04,-.17,195],[.11,-.21,200],[.19,-.25,205],[.27,-.27,225],[.34,-.22,250],[.38,-.12,245],[.40,-.04,205],[.42,.05,195],[.39,.14,200],[.37,.21,195],[.31,.28,190],[.44,-.15,225],[.33,-.32,215],[.25,-.38,235],[.17,-.33,205],[.09,-.30,195],[.01,-.28,190],[-.07,-.34,195],[-.15,-.39,200],[-.23,-.45,205],[-.30,-.50,210],[.06,-.42,210],[.13,-.45,225],[.21,-.47,215],[.29,-.42,225],[.36,-.36,230],[-.02,-.47,215],[-.10,-.52,215]];
const racmoBand = [[-.62,-.44,170],[-.55,-.50,165],[-.48,-.47,180],[-.42,-.55,190],[-.36,-.60,200],[-.28,-.58,215],[-.20,-.60,225],[-.12,-.63,220],[-.04,-.60,210],[.04,-.57,205],[.12,-.60,215],[.19,-.56,205],[-.70,-.58,160],[-.66,-.66,170],[-.60,-.62,200],[-.54,-.68,210],[-.47,-.65,215],[-.40,-.70,220],[-.33,-.72,215],[-.26,-.68,200],[-.18,-.72,195],[-.10,-.74,205],[-.02,-.70,215],[.06,-.72,205],[.13,-.72,200],[-.64,-.74,180],[-.58,-.80,230],[-.50,-.78,225],[-.43,-.82,210],[-.36,-.85,200],[-.29,-.80,210],[-.22,-.84,205],[-.14,-.82,205],[-.06,-.85,190],[.01,-.82,190],[.07,-.84,180],[-.70,-.88,200],[-.62,-.92,160],[-.54,-.90,175],[-.46,-.92,200],[-.38,-.95,205],[-.30,-.98,195],[-.24,-.93,200],[-.17,-.96,180],[-.68,-.93,335],[-.56,-.69,330],[-.55,-.77,45],[-.82,-.90,180],[.26,-.52,190],[.33,-.50,195],[.22,-.62,170],[.16,-.66,175],[.10,-.78,200],[.03,-.76,195]];
const racmoLowerLobe = [[-.78,-1.02,240],[-.72,-1.06,240],[-.66,-1.02,235],[-.60,-1.05,225],[-.54,-1.02,215],[-.48,-1.05,195],[-.42,-1.02,190],[-.36,-1.05,180],[-.30,-1.06,175],[-.75,-1.12,245],[-.69,-1.14,245],[-.63,-1.12,240],[-.57,-1.14,235],[-.51,-1.12,215],[-.45,-1.16,190],[-.39,-1.13,185],[-.80,-1.18,245],[-.74,-1.20,245],[-.68,-1.22,250],[-.62,-1.20,245],[-.56,-1.23,230],[-.50,-1.22,200],[-.84,-1.25,250],[-.78,-1.27,250],[-.72,-1.29,250],[-.66,-1.28,250],[-.60,-1.26,240],[-.88,-1.32,250],[-.82,-1.34,250],[-.76,-1.32,245],[-.70,-1.33,230],[-.64,-1.34,225],[-.88,-1.25,250],[-.86,-1.36,250]];
/* density contours, [log10 observed, log10 model] */
const marContours = [
[[.09,.35],[-.04,.31],[-.18,.21],[-.29,.06],[-.39,-.12],[-.45,-.27],[-.55,-.34],[-.62,-.44],[-.70,-.59],[-.74,-.76],[-.77,-1.03],[-.76,-1.29],[-.74,-1.56],[-.72,-1.80],[-.64,-1.95],[-.57,-1.93],[-.51,-1.78],[-.45,-1.71],[-.37,-1.75],[-.27,-1.80],[-.20,-1.71],[-.18,-1.56],[-.10,-1.43],[0,-1.26],[.07,-1.06],[.15,-.89],[.21,-.69],[.29,-.46],[.36,-.25],[.37,-.05],[.33,.15],[.23,.30]],
[[.03,.13],[-.10,.10],[-.24,-.02],[-.33,-.22],[-.39,-.49],[-.41,-.69],[-.38,-.89],[-.33,-1.13],[-.27,-1.24],[-.18,-1.19],[-.06,-1.03],[.05,-.79],[.17,-.52],[.24,-.29],[.23,-.09],[.15,.06]],
[[.01,-.02],[-.12,-.09],[-.26,-.29],[-.31,-.52],[-.31,-.72],[-.25,-.89],[-.16,-.94],[-.04,-.86],[.05,-.66],[.15,-.39],[.19,-.19],[.13,-.07]],
[[-.02,-.17],[-.12,-.27],[-.20,-.49],[-.16,-.66],[-.06,-.74],[.02,-.59],[.07,-.36],[.05,-.22]],
[[-.24,-2.43],[-.30,-2.55],[-.31,-2.73],[-.25,-2.90],[-.20,-2.90],[-.16,-2.70],[-.18,-2.53]]
];
const racmoContours = [
[[.06,.33],[-.10,.30],[-.25,.16],[-.40,.03],[-.54,-.15],[-.59,-.32],[-.65,-.49],[-.72,-.62],[-.76,-.76],[-.74,-.96],[-.78,-1.19],[-.72,-1.24],[-.59,-1.16],[-.54,-.99],[-.42,-.87],[-.33,-.92],[-.24,-.98],[-.12,-.92],[-.03,-.69],[.04,-.52],[.16,-.39],[.29,-.19],[.33,.01],[.29,.18],[.19,.30]],
[[.06,.25],[-.10,.21],[-.25,.08],[-.37,-.05],[-.44,-.19],[-.46,-.32],[-.39,-.42],[-.25,-.57],[-.14,-.49],[-.03,-.42],[.16,-.25],[.25,-.09],[.23,.11],[.16,.21]],
[[.04,.16],[-.10,.11],[-.24,.01],[-.33,-.12],[-.37,-.22],[-.29,-.36],[-.14,-.39],[.01,-.32],[.16,-.17],[.18,.01],[.12,.13]],
[[.01,.06],[-.12,.01],[-.24,-.09],[-.29,-.20],[-.22,-.29],[-.07,-.25],[.06,-.12],[.10,0]],
[[-.05,-.02],[-.14,-.09],[-.18,-.17],[-.07,-.20],[.01,-.12],[.02,-.05]],
[[-.57,-.57],[-.69,-.62],[-.70,-.76],[-.63,-.85],[-.52,-.79],[-.46,-.66],[-.50,-.59]]
];
const marEnvelope = [[-1.26,-.46],[.13,1.1],[.69,1.1],[.69,-1.89],[-.24,-3],[-1.26,-3]];
const racmoEnvelope = [[-1.262,-.673],[.682,.968],[.682,-.238],[-1.262,-1.873]];
const referenceOffsets = [0.699,0,-0.699];
const scatterYTicks = [1,0,-1,-2,-3];
const ratioYTicks = [2,1,0,-1,-2,-3];
const observedXTicks = [-3,-2,-1,0,1];

/* ---------- panel d: hexbin, [log10 observed, log10 ratio, count] ---------- */
const hexMar = [
[-1.053,.408,1],[-.65,.408,4],[-.441,.408,5],[-.232,.408,5],[-.031,.408,4],[.178,.408,1],
[-1.37,.183,1],[-.758,.183,5],[-.549,.183,8],[-.34,.183,14],[-.131,.183,18],[.078,.183,18],[.287,.183,4],
[-.855,-.038,5],[-.65,-.038,20],[-.441,-.038,16],[-.232,-.038,40],[-.031,-.038,45],[.178,-.038,18],[.388,-.038,5],
[-.758,-.268,10],[-.549,-.268,18],[-.34,-.268,20],[-.131,-.268,55],[.078,-.268,55],[.287,-.268,12],[.492,-.268,4],
[-1.053,-.493,1],[-.855,-.493,5],[-.65,-.493,20],[-.441,-.493,11],[-.232,-.493,45],[-.031,-.493,55],[.178,-.493,30],[.388,-.493,12],[.589,-.493,1],
[-.956,-.728,3],[-.758,-.728,11],[-.549,-.728,28],[-.34,-.728,26],[-.131,-.728,55],[.078,-.728,28],[.287,-.728,20],[.492,-.728,7],[.693,-.728,1],
[-1.053,-.953,1],[-.855,-.953,5],[-.65,-.953,18],[-.441,-.953,10],[-.232,-.953,26],[-.031,-.953,38],[.178,-.953,14],[.388,-.953,2],[.589,-.953,3],
[-.956,-1.179,3],[-.758,-1.179,8],[-.549,-1.179,26],[-.34,-1.179,24],[-.131,-1.179,14],[.078,-1.179,8],[.287,-1.179,2],[.492,-1.179,2],
[-1.053,-1.404,1],[-.855,-1.404,4],[-.65,-1.404,5],[-.441,-1.404,11],[-.232,-1.404,11],[-.031,-1.404,6],[.178,-1.404,4],
[-.758,-1.629,3],[-.549,-1.629,5],[-.34,-1.629,5],[-.131,-1.629,3],[.078,-1.629,6],
[-.65,-1.855,11],[-.441,-1.855,4],[-.232,-1.855,6],[-.031,-1.855,4],
[-.758,-2.089,1],[-.549,-2.089,4],[-.34,-2.089,6],[-.131,-2.089,9],[.078,-2.089,3],
[-.65,-2.315,3],[-.441,-2.315,3],[-.232,-2.315,20],[-.031,-2.315,3],[.178,-2.315,2],
[-.758,-2.54,1],[-.549,-2.54,4],[-.34,-2.54,6],[-.131,-2.54,10],[.078,-2.54,6],
[-.441,-2.77,6],[-.232,-2.77,12],[-.031,-2.77,9],[.178,-2.77,1],
[-.549,-2.995,3],[-.34,-2.995,4],[-.131,-2.995,9]
];
const hexRacmo = [
[-1.266,.408,1],[-1.06,.408,1],[-.854,.408,2],[-.648,.408,7],[-.442,.408,7],[-.236,.408,10],[-.03,.408,4],
[-.959,.183,1],[-.753,.183,9],[-.547,.183,18],[-.341,.183,55],[-.135,.183,55],[.071,.183,55],[.277,.183,3],
[-.854,-.038,5],[-.648,-.038,55],[-.442,-.038,55],[-.236,-.038,55],[-.03,-.038,55],[.176,-.038,55],[.382,-.038,5],
[-1.165,-.268,2],[-.959,-.268,2],[-.753,-.268,20],[-.547,-.268,55],[-.341,-.268,55],[-.135,-.268,55],[.071,-.268,55],[.277,-.268,22],[.483,-.268,5],
[-.854,-.493,12],[-.648,-.493,16],[-.442,-.493,11],[-.236,-.493,55],[-.03,-.493,18],[.176,-.493,18],[.382,-.493,12],[.588,-.493,2],
[-.959,-.728,2],[-.753,-.728,1],[-.547,-.728,12],[-.341,-.728,12],[-.135,-.728,18],[.071,-.728,9],[.277,-.728,12],[.483,-.728,3],[.689,-.728,1],
[-.648,-.953,4],[-.442,-.953,2],[-.236,-.953,4],[-.03,-.953,7],[.176,-.953,4],[.382,-.953,3],[.588,-.953,1],
[.071,-1.179,2],[.277,-1.179,4],[.483,-1.179,1],[.689,-1.179,1],
[.176,-1.404,1],[.588,-1.404,1],
[.176,-1.855,1],
[.277,-2.089,1]
];
const quantileBinEdges = [-1.258,-0.3,0.652];
const marQuantileUpper = [1.38,1.26];
const marQuantileMedian = [0.14,0.13];
const marQuantileLower = [0.0023,null];
const racmoQuantileUpper = [2.05,1.70];
const racmoQuantileMedian = [0.72,0.65];
const racmoQuantileLower = [0.226,0.18];
const doyTicks = [100,200,300];
const countMajorTicks = [1,10];
const countMinorTicks = [2,3,4,5,6,7,8,9,20,30,40,50];

/* ---------- helpers ---------- */
const NS = 'http://www.w3.org/2000/svg';
function svgEl(tag, attrs, parent){
  const el = document.createElementNS(NS, tag);
  for (const k in attrs) el.setAttribute(k, attrs[k]);
  parent.appendChild(el);
  return el;
}
function supText(parent, x, y, base, sup, anchor, size){
  const el = svgEl('text', {x:x, y:y, 'font-size':size, 'text-anchor':anchor}, parent);
  el.appendChild(document.createTextNode(base));
  const s = svgEl('tspan', {dy:-0.42*size, 'font-size':0.74*size}, el);
  s.textContent = sup;
  return el;
}
function mixStops(stops, t){
  t = Math.max(0, Math.min(1, t));
  const n = stops.length - 1, i = Math.min(n - 1, Math.floor(t * n)), f = t * n - i;
  const a = stops[i], b = stops[i + 1], c = [0, 0, 0];
  for (let k = 0; k < 3; k++) c[k] = Math.round(a[k] + (b[k] - a[k]) * f);
  return 'rgb(' + c.join(',') + ')';
}
const viridisStops = [[68,1,84],[72,36,117],[65,68,135],[53,95,141],[42,120,142],[33,145,140],[34,168,132],[68,191,112],[122,209,81],[189,223,38],[253,231,37]];
const cividisStops = [[0,34,78],[18,53,112],[59,73,108],[87,93,109],[112,113,115],[138,134,120],[165,156,116],[195,179,105],[225,204,85],[241,218,70],[254,232,56]];
function doyColor(d){ return mixStops(viridisStops, (d - 31) / 314); }
function countColor(c){ return mixStops(cividisStops, Math.log10(c) / 1.769); }

/* ---------- panel a ---------- */
(function(){
  const base = document.getElementById('mapBase');
  const rows = mapColorRows.length, cols = mapColorRows[0].length;
  const cw = 1907 / cols, ch = 1230.5 / rows;
  for (let r = 0; r < rows; r++) for (let c = 0; c < cols; c++){
    const x0 = 90 + c * cw - (c === 0 ? 90 : 0), y0 = 16.5 + r * ch - (r === 0 ? 90 : 0);
    const x1 = 90 + (c + 1) * cw + (c === cols - 1 ? 90 : 0), y1 = 16.5 + (r + 1) * ch + (r === rows - 1 ? 90 : 0);
    const cell = svgEl('rect', {x:x0, y:y0, width:x1 - x0 + 1, height:y1 - y0 + 1, fill:mapColorRows[r][c]}, base);
    
    
  }
  const streaks = document.getElementById('mapStreaks');
  mapPatches.forEach(p => {
    const e = svgEl('ellipse', {cx:p[0], cy:p[1], rx:p[2], ry:p[3], fill:p[5], opacity:0.7, transform:'rotate(' + p[4] + ' ' + p[0] + ' ' + p[1] + ')'}, streaks);
    
    
  });
  const gridX = i => 113 + 36 * i;
  const gridY = j => 74.7 + 35.95 * j;
  const pts = a => a.map(p => gridX(p[0]).toFixed(1) + ',' + gridY(p[1]).toFixed(1)).join(' ');
  const g = document.getElementById('mapBasins');
  basinThin.forEach(a => {
    const l = svgEl('polyline', {points:pts(a), fill:'none', stroke:'#2ca02c', 'stroke-width':1.8}, g);
    
    
  });
  [basinThickMain, basinThickWest, basinThickCentral].forEach(a => {
    const l = svgEl('polyline', {points:pts(a), fill:'none', stroke:'#2ca02c', 'stroke-width':3.6}, g);
    
    
  });
  const iceGreen = svgEl('polyline', {points:pts(iceBasin), fill:'none', stroke:'#2ca02c', 'stroke-width':3.4}, g);
  
  
  const iceBlue = svgEl('polyline', {points:pts(iceBasin), fill:'none', stroke:'#1f77b4', 'stroke-width':1.8}, g);
  
  
  const stream = svgEl('polyline', {points:pts(streamPath), fill:'none', stroke:'#b2df8a', 'stroke-width':4}, g);
  
  
  outletCells.forEach(p => {
    const x = gridX(p[0]), y = gridY(p[1]);
    const d = svgEl('polygon', {points:x + ',' + (y - 9) + ' ' + (x + 9) + ',' + y + ' ' + x + ',' + (y + 9) + ' ' + (x - 9) + ',' + y, fill:'#ff7f00'}, g);
    
    
  });
  stationCells.forEach(p => {
    const x = gridX(p[0]), y = gridY(p[1]);
    const d = svgEl('polygon', {points:x + ',' + (y - 12) + ' ' + (x + 12) + ',' + y + ' ' + x + ',' + (y + 12) + ' ' + (x - 12) + ',' + y, fill:'none', stroke:'#ff7f00', 'stroke-width':3.5}, g);
    
    
  });
  const topEdge = svgEl('line', {x1:90, y1:16.5, x2:1997, y2:16.5, stroke:'#b9d7b0', 'stroke-width':2}, g);
  
  
  const bottomEdge = svgEl('line', {x1:90, y1:1246, x2:1997, y2:1246, stroke:'#2ca02c', 'stroke-width':2}, g);
  
  
})();

/* ---------- panel b ---------- */
(function(){
  const bX = d => 281.6 + 6.6 * d;
  const bY = v => 1857.7 - 150 * v;
  function expand(days, vals, summer){
    const out = [];
    let idx = 0;
    for (let d = 0; d <= 150; d++){
      while (idx + 1 < days.length && days[idx + 1] <= d) idx++;
      out.push(vals[idx]);
    }
    return out.concat(summer);
  }
  const obs = expand(obsEarlyDays, obsEarlyValues, obsSummer);
  const mar = expand(marEarlyDays, marEarlyValues, marSummer);
  const racmo = expand(racmoEarlyDays, racmoEarlyValues, racmoSummer);
  function stepPath(series, scale){
    let d = '', pen = false;
    for (let i = 0; i < series.length && i <= lastDay; i++){
      const v = series[i];
      if (v === null){ pen = false; continue; }
      const x0 = bX(Math.max(0, i - 0.5)), x1 = bX(Math.min(lastDay, i + 0.5)), y = bY(v * scale);
      d += (pen ? 'L' : 'M') + x0.toFixed(1) + ' ' + y.toFixed(1) + 'L' + x1.toFixed(1) + ' ' + y.toFixed(1);
      pen = true;
    }
    return d;
  }
  function bandPath(series){
    const hi = [], lo = [];
    for (let i = 0; i < series.length && i <= lastDay; i++){
      const x0 = bX(Math.max(0, i - 0.5)), x1 = bX(Math.min(lastDay, i + 0.5));
      hi.push(x0.toFixed(1) + ' ' + bY(series[i] * (1 + runoffBandFraction)).toFixed(1), x1.toFixed(1) + ' ' + bY(series[i] * (1 + runoffBandFraction)).toFixed(1));
      lo.unshift(x1.toFixed(1) + ' ' + bY(series[i] * (1 - runoffBandFraction)).toFixed(1), x0.toFixed(1) + ' ' + bY(series[i] * (1 - runoffBandFraction)).toFixed(1));
    }
    return 'M' + hi.join('L') + 'L' + lo.join('L') + 'Z';
  }
  const g = document.getElementById('runoffPanel');
  const obsLine = svgEl('path', {d:stepPath(obs, 1), fill:'none', stroke:'#1f77b4', 'stroke-width':5.4, 'stroke-linejoin':'miter'}, g);
  
  
  const marBand = svgEl('path', {d:bandPath(mar), fill:'#555', 'fill-opacity':0.3, stroke:'#555', 'stroke-opacity':0.4, 'stroke-width':2.4}, g);
  
  
  const marLine = svgEl('path', {d:stepPath(mar, 1), fill:'none', stroke:'#000', 'stroke-opacity':0.68, 'stroke-width':5.2}, g);
  
  
  const racmoBandEl = svgEl('path', {d:bandPath(racmo), fill:'#d6404f', 'fill-opacity':0.28, stroke:'#d6404f', 'stroke-opacity':0.3, 'stroke-width':2.4}, g);
  
  
  const racmoLine = svgEl('path', {d:stepPath(racmo, 1), fill:'none', stroke:'#b2182b', 'stroke-opacity':0.65, 'stroke-width':5.2}, g);
  
  
  const ySpine = svgEl('line', {x1:246.4, y1:1283, x2:246.4, y2:1887, stroke:'#000', 'stroke-width':2.6}, g);
  
  
  runoffYTicks.forEach(v => {
    const t = svgEl('line', {x1:228, y1:bY(v), x2:246.4, y2:bY(v), stroke:'#000', 'stroke-width':2.6}, g);
    
    
    const l = svgEl('text', {x:212, y:bY(v) + 15, 'font-size':40, 'text-anchor':'end'}, g);
    l.textContent = String(v);
    
    
  });
  const xSpine = svgEl('line', {x1:bX(0) - 1, y1:1922.5, x2:bX(lastDay), y2:1922.5, stroke:'#000', 'stroke-width':2.6}, g);
  
  
  for (let d = 0; d <= lastDay; d += 7){
    const t = svgEl('line', {x1:bX(d), y1:1922.5, x2:bX(d), y2:1929.5, stroke:'#000', 'stroke-width':1.8}, g);
    
    
  }
  monthStartDays.forEach((d, i) => {
    const t = svgEl('line', {x1:bX(d), y1:1922.5, x2:bX(d), y2:1940, stroke:'#000', 'stroke-width':2.6}, g);
    
    
    const l = svgEl('text', {x:bX(d), y:1986, 'font-size':39, 'text-anchor':'middle'}, g);
    l.textContent = monthNames[i];
    
    
  });
})();

/* ---------- shared log axes ---------- */
const xLeft = v => 787.9 + 173 * v;
const xRight = v => 1625.9 + 173.2 * v;
const yScatter = v => 2788.4 - (v + 3) * 152.3;
const yRatio = v => 3550.5 - (v + 3) * 125.02;

function smoothClosed(points, fx, fy){
  const p = points.map(q => [fx(q[0]), fy(q[1])]);
  const n = p.length;
  let d = 'M' + p[0][0].toFixed(1) + ' ' + p[0][1].toFixed(1);
  for (let i = 0; i < n; i++){
    const a = p[(i + n - 1) % n], b = p[i], c = p[(i + 1) % n], e = p[(i + 2) % n];
    d += 'C' + (b[0] + (c[0] - a[0]) / 6).toFixed(1) + ' ' + (b[1] + (c[1] - a[1]) / 6).toFixed(1) + ' ' +
         (c[0] - (e[0] - b[0]) / 6).toFixed(1) + ' ' + (c[1] - (e[1] - b[1]) / 6).toFixed(1) + ' ' +
         c[0].toFixed(1) + ' ' + c[1].toFixed(1);
  }
  return d + 'Z';
}
function drawScatter(g, fx, envelope, groups, contours){
  const poly = svgEl('polygon', {points:envelope.map(p => fx(p[0]).toFixed(1) + ',' + yScatter(p[1]).toFixed(1)).join(' '), fill:'#dedede', stroke:'#cfcfcf', 'stroke-width':2}, g);
  
  
  groups.forEach(list => list.forEach(p => {
    const dot = svgEl('circle', {cx:fx(p[0]).toFixed(1), cy:yScatter(p[1]).toFixed(1), r:p[2] < 60 ? 4.2 : 5.4, fill:doyColor(p[2])}, g);
    
    
  }));
  referenceOffsets.forEach(off => {
    const xMax = 1.095, yMax = 1.1, low = -3;
    const x0 = Math.max(low, low - off), x1 = Math.min(xMax, yMax - off);
    const l = svgEl('line', {x1:fx(x0), y1:yScatter(x0 + off), x2:fx(x1), y2:yScatter(x1 + off), stroke:'#707070', 'stroke-width':3.4}, g);
    
    
  });
  contours.forEach(c => {
    const k = svgEl('path', {d:smoothClosed(c, fx, yScatter), fill:'none', stroke:'#262626', 'stroke-opacity':0.75, 'stroke-width':6}, g);
    
    
  });
}
function drawYAxis(g, spineX, side, fy, ticks, topY){
  const spine = svgEl('line', {x1:spineX, y1:topY, x2:spineX, y2:fy(ticks[ticks.length - 1]), stroke:'#000', 'stroke-width':2.6}, g);
  
  
  ticks.forEach(v => {
    const t = svgEl('line', {x1:spineX, y1:fy(v), x2:spineX + side * 18, y2:fy(v), stroke:'#000', 'stroke-width':2.6}, g);
    
    
    const exp = String(v).replace('-', '−');
    const l = supText(g, side < 0 ? 201 : 1888, fy(v) + 16, '10', exp, side < 0 ? 'end' : 'start', 40);
    
    
  });
}
function drawXAxis(g, fx, endX){
  const y0 = 3587.7;
  const axis = svgEl('line', {x1:fx(-3) - 1, y1:y0, x2:endX, y2:y0, stroke:'#000', 'stroke-width':2.6}, g);
  
  
  observedXTicks.forEach(v => {
    const t = svgEl('line', {x1:fx(v), y1:y0, x2:fx(v), y2:y0 + 18, stroke:'#000', 'stroke-width':2.6}, g);
    
    
    const exp = String(v).replace('-', '−');
    const l = supText(g, 0, 14, '10', exp, 'middle', 40);
    l.setAttribute('transform', 'translate(' + fx(v) + ' ' + (y0 + 66) + ') rotate(-30)');
    
    
  });
}
function drawHex(g, fx, clip, cells, edges, upper, median, lower){
  const w = 18.4, h = 19.5;
  const hg = svgEl('g', {'clip-path':'url(#' + clip + ')'}, g);
  
  
  cells.forEach(c => {
    const x = fx(c[0]), y = yRatio(c[1]);
    const pts = [[0,-h],[w,-h / 2],[w,h / 2],[0,h],[-w,h / 2],[-w,-h / 2]].map(q => (x + q[0]).toFixed(1) + ',' + (y + q[1]).toFixed(1)).join(' ');
    const hex = svgEl('polygon', {points:pts, fill:countColor(c[2])}, hg);
    
    
  });
  [[upper, true],[median, false],[lower, true]].forEach(pair => {
    pair[0].forEach((v, i) => {
      if (v === null) return;
      const yy = yRatio(Math.log10(v));
      const attrs = {x1:fx(edges[i]), y1:yy, x2:fx(edges[i + 1]), y2:yy, stroke:'#000', 'stroke-width':4.4};
      if (pair[1]) attrs['stroke-dasharray'] = '20 8';
      const q = svgEl('line', attrs, g);
      
      
    });
  });
}

drawScatter(document.getElementById('scatterLeft'), xLeft, marEnvelope, [marUpperDense, marMidDense, marLeftDense, marOutliers, marUpperLobe, marCore, marLeftLobe, marLowerSpread, marTail], marContours);
drawYAxis(document.getElementById('scatterLeft'), 232.4, -1, yScatter, scatterYTicks, 2163);
drawScatter(document.getElementById('scatterRight'), xRight, racmoEnvelope, [racmoBandDense, racmoCoreDense, racmoOutliers, racmoCore, racmoBand, racmoLowerLobe], racmoContours);
drawYAxis(document.getElementById('scatterRight'), 1852, 1, yScatter, scatterYTicks, 2163);

drawHex(document.getElementById('hexLeft'), xLeft, 'hexClipL', hexMar, quantileBinEdges, marQuantileUpper, marQuantileMedian, marQuantileLower);
drawYAxis(document.getElementById('hexLeft'), 232.4, -1, yRatio, ratioYTicks, yRatio(2));
drawXAxis(document.getElementById('hexLeft'), xLeft, 980);
drawHex(document.getElementById('hexRight'), xRight, 'hexClipR', hexRacmo, quantileBinEdges, racmoQuantileUpper, racmoQuantileMedian, racmoQuantileLower);
drawYAxis(document.getElementById('hexRight'), 1852, 1, yRatio, ratioYTicks, yRatio(2));
drawXAxis(document.getElementById('hexRight'), xRight, 1817);

/* ---------- colorbars ---------- */
(function(){
  const g = document.getElementById('colorbars');
  const doyX = d => 922.7 + (d - 100) * 1.353;
  const countX = c => 830.7 + 238.6 * Math.log10(c);
  doyTicks.forEach(d => {
    const t = svgEl('line', {x1:doyX(d), y1:2871.7, x2:doyX(d), y2:2884, stroke:'#000', 'stroke-width':2.6}, g);
    
    
    const l = svgEl('text', {x:doyX(d), y:2849, 'font-size':40.5, 'text-anchor':'middle'}, g);
    l.textContent = String(d);
    
    
  });
  countMinorTicks.forEach(c => {
    const t = svgEl('line', {x1:countX(c), y1:2962, x2:countX(c), y2:2969, stroke:'#000', 'stroke-width':1.8}, g);
    
    
  });
  countMajorTicks.forEach(c => {
    const t = svgEl('line', {x1:countX(c), y1:2962, x2:countX(c), y2:2975, stroke:'#000', 'stroke-width':2.6}, g);
    
    
    const l = supText(g, countX(c), 3021, '10', String(Math.round(Math.log10(c))), 'middle', 40);
    
    
  });
})();
</script>
</body>
</html>
